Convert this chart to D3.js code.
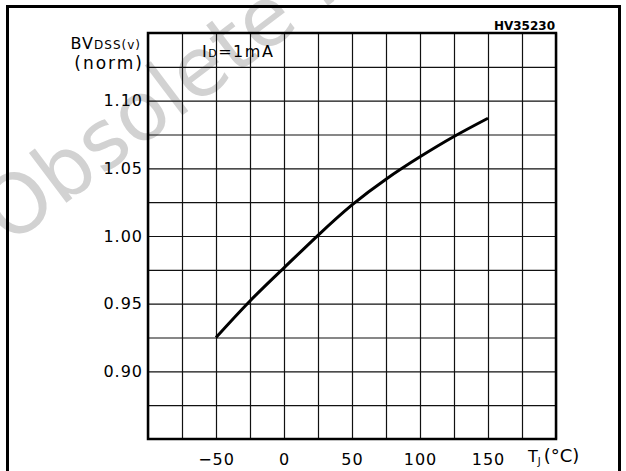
<!DOCTYPE html>
<html>
<head>
<meta charset="utf-8">
<script src="https://cdn.jsdelivr.net/npm/d3@7"></script>
<style>
  body { margin: 0; background: #fff; }
  text { font-family: "DejaVu Sans", sans-serif; }
</style>
</head>
<body>
<div id="chart"></div>
<script>
// data
const temps = [-50, -25, 0, 25, 50, 75, 100, 125, 150]
const bvNorm = [0.925, 0.952, 0.9765, 1.0005, 1.023, 1.042, 1.0585, 1.0735, 1.087]
const xTickLabels = [-50, 0, 50, 100, 150]
const yTickLabels = [0.90, 0.95, 1.00, 1.05, 1.10]
const xGrid = d3.range(-100, 201, 25)
const yGrid = d3.range(0, 13).map(i => 0.85 + i * 0.025)

const Width = 626
const Height = 471
const m = { left: 148, right: 556, top: 33, bottom: 439 }

const svg = d3.select('#chart')
    .append('svg')
    .attr('width', Width)
    .attr('height', Height)

// watermark
svg.append('text')
    .attr('transform', 'translate(9,246) rotate(-37)')
    .attr('font-family', '"Liberation Sans", sans-serif')
    .attr('font-size', 82)
    .attr('fill', '#d2d2d2')
    .text('Obsolete Product(s)')

// outer frame
svg.append('path')
    .attr('d', `M7.5,${Height + 2}V6.5H619.5V${Height + 2}`)
    .attr('fill', 'none')
    .attr('stroke', '#000')
    .attr('stroke-width', 3)

const x = d3.scaleLinear().domain([-100, 200]).range([m.left, m.right])
const y = d3.scaleLinear().domain([0.85, 1.15]).range([m.bottom, m.top])

// grid
svg.append('g')
    .attr('transform', `translate(0,${m.bottom})`)
    .call(d3.axisBottom(x).tickValues(xGrid).tickSize(-(m.bottom - m.top)).tickFormat(''))
    .call(g => g.select('.domain').remove())
    .call(g => g.selectAll('line').attr('stroke', '#111').attr('stroke-width', 1.2))

svg.append('g')
    .attr('transform', `translate(${m.left},0)`)
    .call(d3.axisLeft(y).tickValues(yGrid).tickSize(-(m.right - m.left)).tickFormat(''))
    .call(g => g.select('.domain').remove())
    .call(g => g.selectAll('line').attr('stroke', '#111').attr('stroke-width', 1.2))

svg.append('rect')
    .attr('x', m.left)
    .attr('y', m.top)
    .attr('width', m.right - m.left)
    .attr('height', m.bottom - m.top)
    .attr('fill', 'none')
    .attr('stroke', '#000')
    .attr('stroke-width', 2.5)

// tick labels
svg.append('g')
    .attr('transform', `translate(0,${m.bottom})`)
    .call(d3.axisBottom(x).tickValues(xTickLabels).tickSize(0).tickPadding(15)
        .tickFormat(d => d < 0 ? '\u2212' + Math.abs(d) : d))
    .call(g => g.select('.domain').remove())
    .call(g => g.selectAll('text').attr('font-size', 16).attr('fill', '#000')
        .attr('letter-spacing', 1)
        .attr('font-family', '"DejaVu Sans", sans-serif'))

svg.append('g')
    .attr('transform', `translate(${m.left},0)`)
    .call(d3.axisLeft(y).tickValues(yTickLabels).tickSize(0).tickPadding(5)
        .tickFormat(d3.format('.2f')))
    .call(g => g.select('.domain').remove())
    .call(g => g.selectAll('text').attr('font-size', 16).attr('fill', '#000')
        .attr('letter-spacing', 1)
        .attr('font-family', '"DejaVu Sans", sans-serif'))

// curve
const line = d3.line()
    .x((d, i) => x(temps[i]))
    .y(d => y(d))
    .curve(d3.curveNatural)

svg.append('path')
    .datum(bvNorm)
    .attr('d', line)
    .attr('fill', 'none')
    .attr('stroke', '#000')
    .attr('stroke-width', 3)

// labels
const yl = svg.append('text')
    .attr('x', 141)
    .attr('y', 49)
    .attr('text-anchor', 'end')
    .attr('font-size', 16)
    .attr('letter-spacing', 1)
yl.append('tspan').text('BV')
yl.append('tspan').attr('font-size', 12).text('DSS(v)')

svg.append('text')
    .attr('x', 144)
    .attr('y', 69)
    .attr('text-anchor', 'end')
    .attr('font-size', 17)
    .attr('letter-spacing', 2)
    .text('(norm)')

const id = svg.append('text')
    .attr('x', 202)
    .attr('y', 57)
    .attr('font-size', 16)
    .attr('letter-spacing', 1.5)
id.append('tspan').text('I')
id.append('tspan').attr('font-size', 11).text('D')
id.append('tspan').text('=1mA')

svg.append('text')
    .attr('x', 555)
    .attr('y', 30)
    .attr('text-anchor', 'end')
    .attr('font-size', 12)
    .attr('font-weight', 'bold')
    .text('HV35230')

const tl = svg.append('text')
    .attr('x', 528)
    .attr('y', 462)
    .attr('font-size', 16)
tl.append('tspan').text('T')
tl.append('tspan').attr('font-size', 10).attr('dy', 3).text('J')
tl.append('tspan').attr('dy', -3).attr('dx', 3).attr('font-size', 18).text('(°C)')
</script>
</body>
</html>
